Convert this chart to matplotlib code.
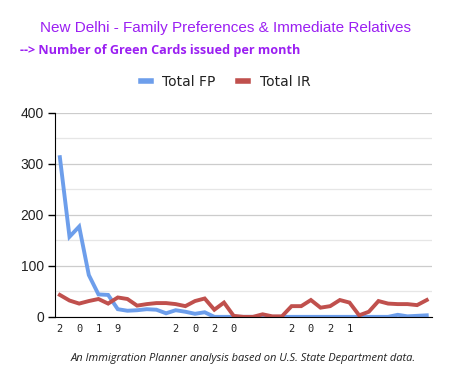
import matplotlib
matplotlib.use("Agg")
import matplotlib.pyplot as plt
from matplotlib.ticker import MultipleLocator

# ---- data ----
total_fp = [313, 157, 177, 82, 44, 43, 15, 12, 13, 15, 14, 7,
            13, 10, 6, 9, 0, 0, 0, 0, 0, 0, 0, 0,
            0, 0, 0, 0, 0, 0, 0, 0, 0, 0, 0, 4, 1, 2, 3]
total_ir = [43, 32, 26, 31, 35, 26, 38, 35, 22, 25, 27, 27,
            25, 21, 31, 36, 14, 28, 2, 0, 0, 5, 1, 1,
            21, 21, 33, 18, 21, 33, 28, 3, 10, 31, 26, 25, 25, 23, 33]
years = ["2019", "2020", "2021"]
series_names = ["Total FP", "Total IR"]
y_ticks = [0, 100, 200, 300, 400]

purple = "#9b1ff2"
fig = plt.figure(figsize=(4.51, 3.85), dpi=100)
ax = fig.add_axes([0.122, 0.177, 0.836, 0.530])

x = list(range(len(total_fp)))
ax.plot(x, total_fp, color="#6d9eeb", lw=2.8, label=series_names[0], solid_joinstyle="miter", zorder=3)
ax.plot(x, total_ir, color="#c0504d", lw=2.8, label=series_names[1], solid_joinstyle="miter", zorder=4)

ax.set_ylim(0, 400)
ax.set_xlim(-0.5, len(x) - 0.45)
ax.set_yticks(y_ticks)
ax.yaxis.set_minor_locator(MultipleLocator(50))
ax.grid(axis="y", which="major", color="#cccccc", lw=0.9, zorder=0)
ax.grid(axis="y", which="minor", color="#e6e6e6", lw=0.9, zorder=0)
ax.tick_params(axis="y", which="major", length=5, width=1, color="black",
               labelsize=10, labelcolor="#222222", pad=3)
ax.tick_params(axis="y", which="minor", length=0)
for lab in ax.get_yticklabels():
    lab.set_family("Liberation Sans")

# x labels: characters of each year spread over months 0,2,4,6
xt, xl = [], []
for yi, yr in enumerate(years):
    for ci, ch in enumerate(yr):
        xt.append(yi * 12 + ci * 2)
        xl.append(ch)
ax.set_xticks(xt)
ax.set_xticklabels(xl, family="DejaVu Sans Mono", fontsize=7.5, color="#222222")
ax.tick_params(axis="x", length=0, pad=5)

for s in ["top", "right"]:
    ax.spines[s].set_visible(False)
ax.spines["left"].set_color("black")
ax.spines["bottom"].set_color("black")
ax.spines["left"].set_zorder(5)
ax.spines["bottom"].set_zorder(5)

fig.text(0.5, 0.927, "New Delhi - Family Preferences & Immediate Relatives",
         ha="center", va="center", color=purple, fontsize=11.0, family="Liberation Sans")
fig.text(0.044, 0.868, "--> Number of Green Cards issued per month",
         ha="left", va="center", color=purple, fontsize=9.1, fontweight="bold", family="Open Sans")

leg = fig.legend(loc="center", bbox_to_anchor=(0.5, 0.787), ncol=2, frameon=False,
                 handlelength=0.75, handletextpad=0.8, columnspacing=1.6,
                 prop={"family": "DejaVu Sans", "size": 10})
for t in leg.get_texts():
    t.set_color("#222222")
for h in leg.get_lines():
    h.set_linewidth(4)

fig.text(0.54, 0.068, "An Immigration Planner analysis based on U.S. State Department data.",
         ha="center", va="center", fontsize=8, style="italic", family="Open Sans", color="#222222")

fig.savefig("out.png", dpi=100)
